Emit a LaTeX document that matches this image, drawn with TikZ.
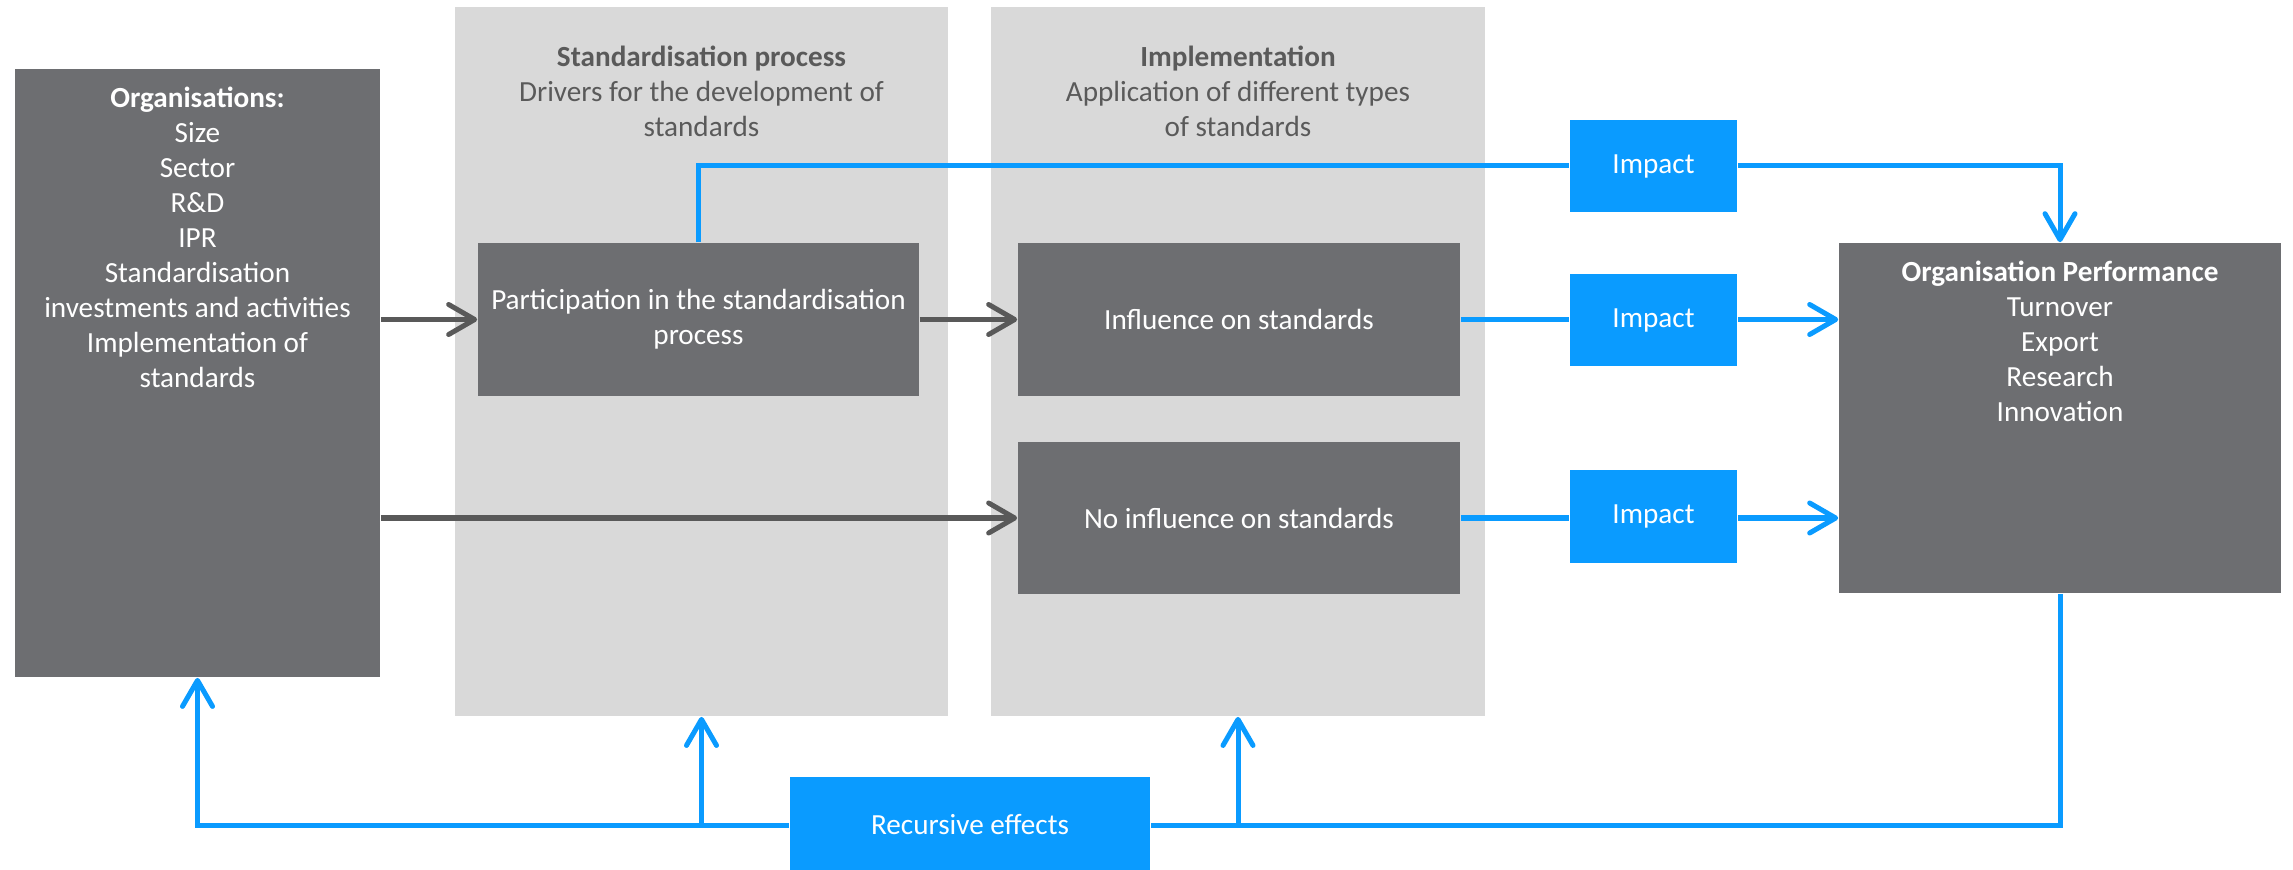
\documentclass[tikz,border=0pt]{standalone}
\usepackage{fontspec}
\setmainfont{Carlito}
\usetikzlibrary{arrows.meta}
\definecolor{boxgray}{HTML}{6D6E71}
\definecolor{colgray}{HTML}{D9D9D9}
\definecolor{impblue}{HTML}{0A9BFF}
\definecolor{arrgray}{HTML}{595959}
\definecolor{titlegray}{HTML}{5A5A5A}
\begin{document}
\begin{tikzpicture}[x=0.01cm,y=-0.01cm,
  font=\fontsize{8.3}{9.96}\selectfont,
  darkbox/.style={fill=boxgray, draw=none, text=white, align=center, inner sep=0pt},
  colbox/.style={fill=colgray, draw=none, inner sep=0pt},
  bluebox/.style={fill=impblue, draw=none, text=white, align=center, inner sep=0pt},
  lbl/.style={inner sep=0pt, align=center, anchor=north},
  conn/.style={line width=0.05cm, line cap=butt, line join=miter},
  arrowtip/.style={-{Straight Barb[length=0.26cm,width=0.30cm,round]}},
  grayconn/.style={conn, draw=arrgray},
  blueconn/.style={conn, draw=impblue}
]
\useasboundingbox (0,0) rectangle (2293,870);
% columns
\node[colbox, minimum width=4.93cm, minimum height=7.09cm] (col1) at (701.5,361.5) {};
\node[colbox, minimum width=4.94cm, minimum height=7.09cm] (col2) at (1238,361.5) {};
\node[lbl, text=titlegray] (col1txt) at (701.5,45) {\textbf{Standardisation process}\\Drivers for the development of\\standards};
\node[lbl, text=titlegray] (col2txt) at (1238,45) {\textbf{Implementation}\\Application of different types\\of standards};
% organisations
\node[darkbox, minimum width=3.65cm, minimum height=6.08cm] (org) at (197.5,373) {};
\node[lbl, text=white] (orgtxt) at (197.5,86) {\textbf{Organisations:}\\Size\\Sector\\R\&D\\IPR\\Standardisation\\investments and activities\\Implementation of\\standards};
% inner boxes
\node[darkbox, minimum width=4.41cm, minimum height=1.53cm] (part) at (698.5,319.5) {Participation in the standardisation\\process};
\node[darkbox, minimum width=4.42cm, minimum height=1.53cm] (infl) at (1239,319.5) {Influence on standards};
\node[darkbox, minimum width=4.42cm, minimum height=1.52cm] (noinf) at (1239,518) {No influence on standards};
% impacts
\node[bluebox, minimum width=1.67cm, minimum height=0.92cm] (imp1) at (1653.5,166) {Impact};
\node[bluebox, minimum width=1.67cm, minimum height=0.92cm] (imp2) at (1653.5,320) {Impact};
\node[bluebox, minimum width=1.67cm, minimum height=0.93cm] (imp3) at (1653.5,516.5) {Impact};
% performance
\node[darkbox, minimum width=4.42cm, minimum height=3.50cm] (perf) at (2060,418) {};
\node[lbl, text=white] (perftxt) at (2060,260) {\textbf{Organisation Performance}\\Turnover\\Export\\Research\\Innovation};
% recursive
\node[bluebox, minimum width=3.60cm, minimum height=0.96cm] (rec) at (970,825) {Recursive effects};
% gray connectors
\draw[grayconn, arrowtip] (org.east |- part.west) -- (part.west);
\draw[grayconn, arrowtip] (part.east) -- (infl.west);
\draw[grayconn, arrowtip] (org.east |- noinf.west) -- (noinf.west);
% blue connectors
\draw[blueconn] (infl.east) -- (imp2.west |- infl.east);
\draw[blueconn, arrowtip] (imp2.east |- infl.east) -- (perf.west |- infl.east);
\draw[blueconn] (noinf.east) -- (imp3.west |- noinf.east);
\draw[blueconn, arrowtip] (imp3.east |- noinf.east) -- (perf.west |- noinf.east);
\draw[blueconn] (part.north) |- (imp1.west);
\draw[blueconn, arrowtip] (imp1.east) -| (perf.north);
\draw[blueconn] (perf.south) |- (rec.east);
\draw[blueconn, arrowtip] (rec.west) -| (org.south);
\coordinate (r1) at (col1.south |- rec.west);
\coordinate (r2) at (col2.south |- rec.west);
\draw[blueconn, arrowtip] (r1) -- (col1.south);
\draw[blueconn, arrowtip] (r2) -- (col2.south);
\end{tikzpicture}
\end{document}
